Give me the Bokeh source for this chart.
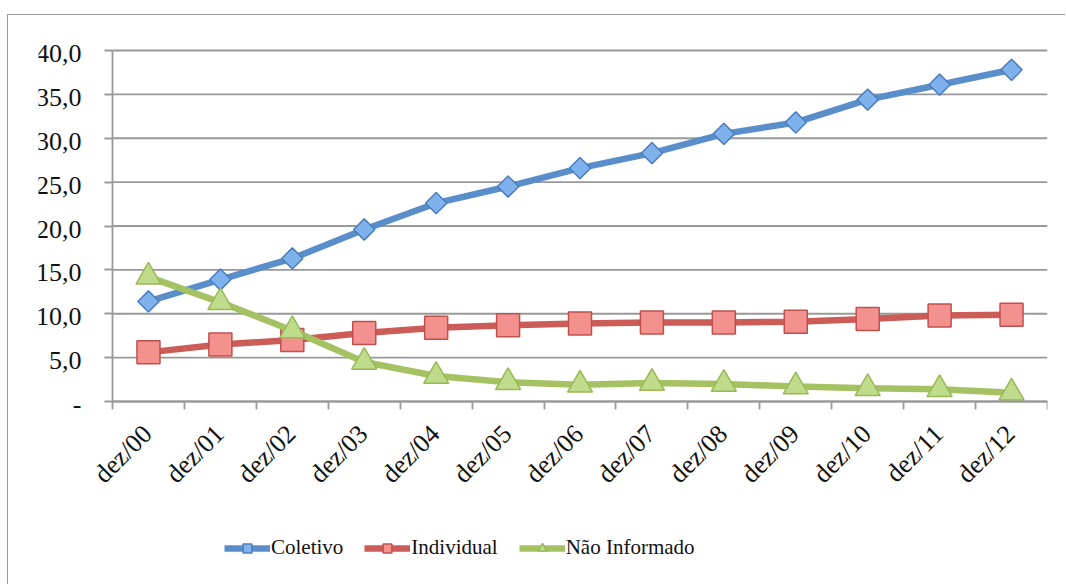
import math
from bokeh.plotting import figure
from bokeh.models import (FixedTicker, Range1d, Legend, LegendItem, ColumnDataSource, LabelSet)
from bokeh.embed import file_html
from bokeh.resources import INLINE

categories = ["dez/00", "dez/01", "dez/02", "dez/03", "dez/04", "dez/05", "dez/06",
              "dez/07", "dez/08", "dez/09", "dez/10", "dez/11", "dez/12"]
coletivo = [11.4, 13.9, 16.3, 19.6, 22.6, 24.5, 26.6, 28.3, 30.5, 31.8, 34.4, 36.1, 37.8]
individual = [5.6, 6.5, 7.0, 7.8, 8.4, 8.7, 8.9, 9.0, 9.0, 9.1, 9.4, 9.8, 9.9]
nao_informado = [14.2, 11.3, 8.1, 4.5, 2.9, 2.2, 1.9, 2.1, 2.0, 1.7, 1.5, 1.4, 1.0]
y_ticks = [0, 5, 10, 15, 20, 25, 30, 35, 40]
y_labels = ["-", "5,0", "10,0", "15,0", "20,0", "25,0", "30,0", "35,0", "40,0"]

n = len(categories)
xs = [i + 0.5 for i in range(n)]
y_max = y_ticks[-1]

# canvas placed at page (8, 15); plot area (axes box) spans page x 112..1047, y 50..401
W, H = 1058, 570
L, T, R, B = 30, 5, 19, 20
FL, FT, FB = 8 + L, 15 + T, 15 + H - B
AX_L, AX_R, AX_T, AX_B = 112, 1047, 50, 401
px_x = (AX_R - AX_L) / n
px_y = (AX_B - AX_T) / y_max
x_start = -(AX_L - FL) / px_x
y_end = y_max + (AX_T - FT) / px_y
y_start = -(FB - AX_B) / px_y

p = figure(width=W, height=H, output_backend="svg", toolbar_location=None,
           x_range=Range1d(x_start, n), y_range=Range1d(y_start, y_end),
           min_border_left=L, min_border_top=T, min_border_right=R, min_border_bottom=B)
p.margin = (15, 0, 0, 8)
p.styles = {"box-shadow": "-1px -1px 0 0 #9a9a9a"}
p.outline_line_color = None
p.background_fill_color = "white"
p.border_fill_color = "white"
p.xgrid.grid_line_color = None
p.ygrid.grid_line_color = None

gray = "#999999"
txt = "#111111"

# horizontal gridlines across the plot area only
p.segment(x0=[0] * len(y_ticks), x1=[n] * len(y_ticks), y0=y_ticks, y1=y_ticks,
          line_color=gray, line_width=1.8, level="underlay")

# axes: lines and tick marks only (labels drawn as LabelSets below)
for ax, mticks, (lo, hi) in ((p.yaxis, y_ticks, (0, y_max)),
                             (p.xaxis, list(range(n + 1)), (0, n))):
    ax.fixed_location = 0
    ax.bounds = (lo, hi)
    ax.ticker = FixedTicker(ticks=[], minor_ticks=mticks)
    ax.axis_line_color = gray
    ax.axis_line_width = 1.8
    ax.major_tick_line_color = None
    ax.major_tick_out = 0
    ax.major_tick_in = 0
    ax.minor_tick_line_color = gray
    ax.minor_tick_line_width = 1.8
    ax.minor_tick_out = 8
    ax.minor_tick_in = 0
    ax.major_label_standoff = 0

# value labels on the left
ylab_src = ColumnDataSource(dict(x=[0] * len(y_ticks), y=y_ticks, text=y_labels))
p.add_layout(LabelSet(x="x", y="y", text="text", source=ylab_src,
                      text_align="right", text_baseline="middle", x_offset=-31, y_offset=-3,
                      text_font="Liberation Serif", text_font_size="26px", text_color=txt))

# category labels below the axis, rotated
lab_src = ColumnDataSource(dict(x=xs, y=[0] * n, text=categories))
p.add_layout(LabelSet(x="x", y="y", text="text", source=lab_src, angle=math.pi / 4,
                      text_align="right", text_baseline="middle", x_offset=-1, y_offset=-28,
                      text_font="Liberation Serif", text_font_size="26px", text_color=txt))

series = [
    ("Coletivo", coletivo, "#5A8ECB", "#7FB1EC", "#4A7EBB", "square", 15, math.pi / 4),
    ("Individual", individual, "#CB5C57", "#F2918E", "#C0504D", "square", 23, 0),
    ("Não Informado", nao_informado, "#A5C263", "#BFDB8C", "#98B954", "triangle", 25, 0),
]

items = []
for name, ys, lc, fc, ec, marker, size, ang in series:
    src = ColumnDataSource(dict(x=xs, y=ys))
    ln = p.line("x", "y", source=src, line_color=lc, line_width=6.5, line_join="round")
    sc = p.scatter("x", "y", source=src, marker=marker, size=size, angle=ang,
                   fill_color=fc, line_color=ec, line_width=1.5)
    items.append(LegendItem(label=name, renderers=[ln, sc]))

legend = Legend(items=items, orientation="horizontal", location=(224 - FL, 5),
                label_text_font="Liberation Serif", label_text_font_size="21px",
                label_text_color=txt, glyph_width=46, glyph_height=22,
                label_standoff=1, spacing=21, padding=0, margin=0,
                border_line_color=None, background_fill_alpha=0)
p.add_layout(legend)

open("out.html", "w").write(file_html(p, INLINE))
